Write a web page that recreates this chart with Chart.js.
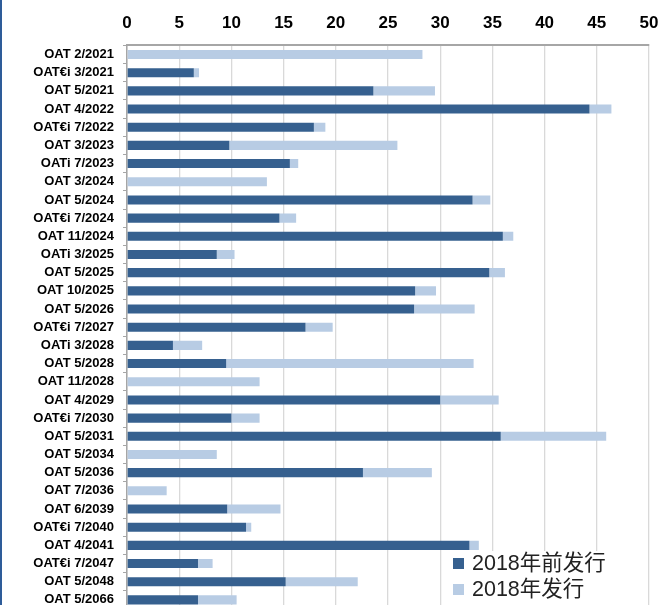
<html>
<head>
<meta charset="utf-8">
<style>
    body { margin: 0; overflow: hidden; background: #fff; }
    .wrap { position: relative; width: 661px; height: 610px; }
    .leftLine { position: absolute; left: 0; top: 0; width: 2px; height: 610px; background: #2e5c99; }
</style>
</head>
<body>
<div class="wrap">
    <canvas id="barChart"></canvas>
    <div class="leftLine"></div>
</div>
<script src="https://cdn.jsdelivr.net/npm/chart.js"></script>

<script>
    const labels = [
        'OAT 2/2021', 'OAT€i 3/2021', 'OAT 5/2021', 'OAT 4/2022', 'OAT€i 7/2022',
        'OAT 3/2023', 'OATi 7/2023', 'OAT 3/2024', 'OAT 5/2024', 'OAT€i 7/2024',
        'OAT 11/2024', 'OATi 3/2025', 'OAT 5/2025', 'OAT 10/2025', 'OAT 5/2026',
        'OAT€i 7/2027', 'OATi 3/2028', 'OAT 5/2028', 'OAT 11/2028', 'OAT 4/2029',
        'OAT€i 7/2030', 'OAT 5/2031', 'OAT 5/2034', 'OAT 5/2036', 'OAT 7/2036',
        'OAT 6/2039', 'OAT€i 7/2040', 'OAT 4/2041', 'OAT€i 7/2047', 'OAT 5/2048',
        'OAT 5/2066'
    ];
    // issued before 2018
    const before2018 = [
        0, 6.4, 23.6, 44.3, 17.9,
        9.8, 15.6, 0, 33.1, 14.6,
        36.0, 8.6, 34.7, 27.6, 27.5,
        17.1, 4.4, 9.5, 0, 30.0,
        10.0, 35.8, 0, 22.6, 0,
        9.6, 11.4, 32.8, 6.8, 15.2,
        6.8
    ];
    // issued in 2018
    const in2018 = [
        28.3, 0.5, 5.9, 2.1, 1.1,
        16.1, 0.8, 13.4, 1.7, 1.6,
        1.0, 1.7, 1.5, 2.0, 5.8,
        2.6, 2.8, 23.7, 12.7, 5.6,
        2.7, 10.1, 8.6, 6.6, 3.8,
        5.1, 0.5, 0.9, 1.4, 6.9,
        3.7
    ];
    const seriesNames = ['2018年前发行', '2018年发行'];
    const xTicks = [0, 5, 10, 15, 20, 25, 30, 35, 40, 45, 50];

    const darkBlue = '#36608f';
    const lightBlue = '#b8cce4';

    // legend sits inside the plot, bottom right, on a white box
    const boxLegend = {
        id: 'boxLegend',
        afterDraw(chart) {
            const ctx = chart.ctx;
            ctx.save();
            ctx.fillStyle = '#fff';
            ctx.fillRect(446, 551, 195, 60);
            const colors = [darkBlue, lightBlue];
            ctx.font = '21.5px "Liberation Sans", Arial, "Noto Sans CJK SC"';
            ctx.textBaseline = 'middle';
            for (let i = 0; i < seriesNames.length; i++) {
                const y = 563 + i * 26;
                ctx.fillStyle = colors[i];
                ctx.fillRect(453, y - 5, 11, 11);
                ctx.fillStyle = '#222';
                ctx.fillText(seriesNames[i], 472, y + 1);
            }
            ctx.restore();
        }
    };

    const data = {
        labels: labels,
        datasets: [{
            label: seriesNames[0],
            data: before2018,
            backgroundColor: darkBlue,
            borderWidth: 0
        }, {
            label: seriesNames[1],
            data: in2018,
            backgroundColor: lightBlue,
            borderWidth: 0
        }]
    };

    const config = {
        type: 'bar',
        data: data,
        options: {
            indexAxis: 'y',
            responsive: true,
            maintainAspectRatio: false,
            animation: false,
            layout: {
                padding: {top: 1, left: 0, right: 12, bottom: 1}
            },
            datasets: {
                bar: {categoryPercentage: 1, barPercentage: 0.5}
            },
            plugins: {
                legend: {display: false},
                tooltip: {enabled: false}
            },
            scales: {
                x: {
                    position: 'top',
                    stacked: true,
                    min: 0,
                    max: 50,
                    afterBuildTicks: axis => {
                        axis.ticks = xTicks.map(v => ({value: v}));
                    },
                    afterFit: scale => {
                        scale.paddingLeft = 0;
                        scale.paddingRight = 0;
                    },
                    grid: {
                        color: '#d9d9d9',
                        lineWidth: 1.3,
                        drawTicks: false
                    },
                    border: {color: '#a6a6a6', width: 2},
                    ticks: {
                        color: '#000',
                        padding: 12,
                        font: {family: '"Liberation Sans", Arial', size: 17, weight: 'bold'}
                    }
                },
                y: {
                    stacked: true,
                    offset: true,
                    afterFit: scale => {
                        scale.width = 127;
                        scale.paddingTop = 0;
                        scale.paddingBottom = 0;
                    },
                    grid: {
                        offset: true,
                        drawOnChartArea: false,
                        drawTicks: true,
                        tickLength: 4,
                        color: '#a6a6a6'
                    },
                    border: {color: '#a6a6a6', width: 1.5},
                    ticks: {
                        color: '#000',
                        padding: 9,
                        autoSkip: false,
                        font: {family: '"Liberation Sans", Arial', size: 13, weight: 'bold'}
                    }
                }
            }
        },
        plugins: [boxLegend]
    };

    const barChart = new Chart(document.getElementById('barChart').getContext('2d'), config);
</script>
</body>
</html>
